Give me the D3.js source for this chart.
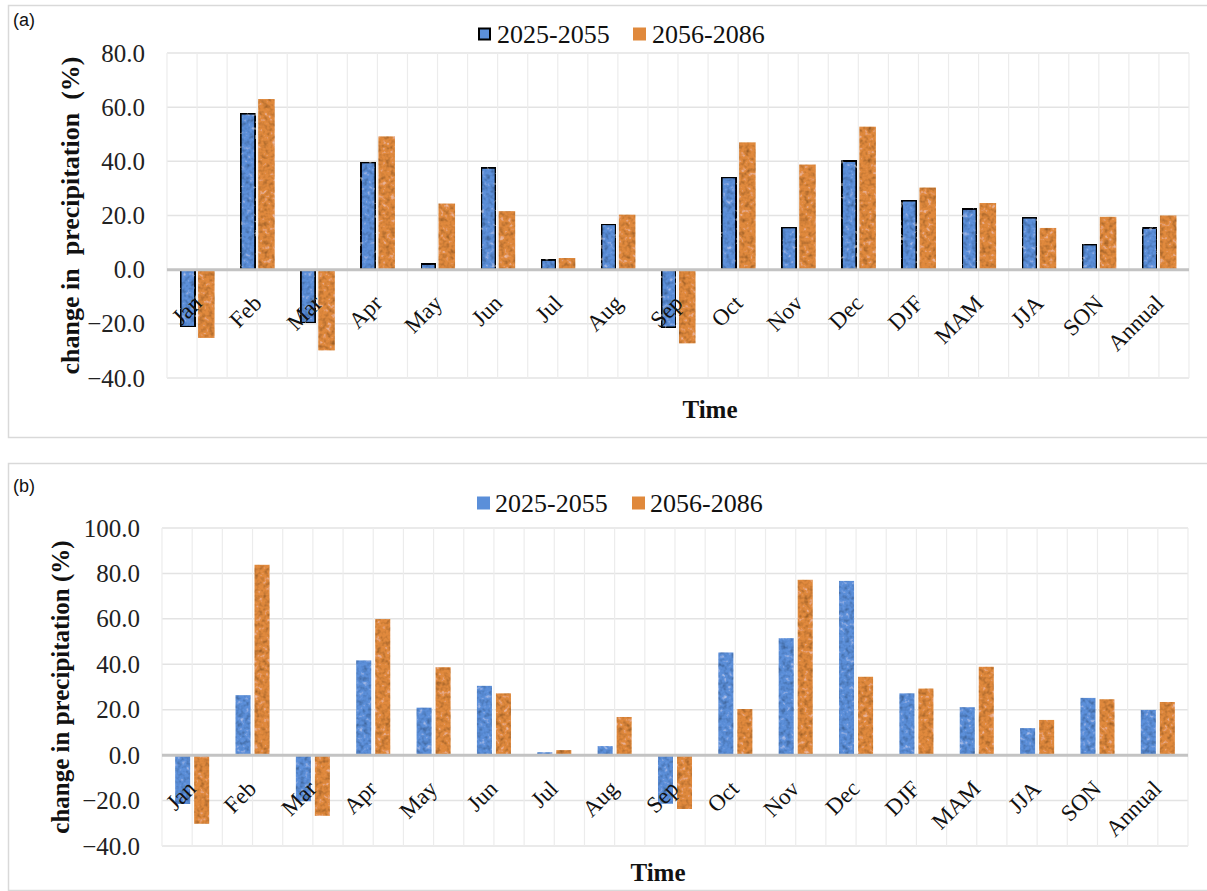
<!DOCTYPE html>
<html><head><meta charset="utf-8">
<script src="https://cdn.jsdelivr.net/npm/d3@7"></script>
<style>
html,body{margin:0;padding:0;background:#fff;}
svg{display:block;}
</style></head>
<body>
<svg id="chart" width="1207" height="891"></svg>
<script>
// ---------- DATA ----------
const categories = ["Jan","Feb","Mar","Apr","May","Jun","Jul","Aug","Sep","Oct","Nov","Dec","DJF","MAM","JJA","SON","Annual"];
const seriesNames = ["2025-2055","2056-2086"];
const panelA_2025_2055 = [-21.5,58.0,-20.0,40.0,2.5,38.0,4.0,17.2,-21.7,34.5,16.0,40.5,25.9,22.8,19.6,9.7,15.8];
const panelA_2056_2086 = [-25.2,63.0,-29.8,49.2,24.4,21.6,4.3,20.3,-27.2,47.0,38.8,52.8,30.3,24.6,15.4,19.5,20.0];
const panelB_2025_2055 = [-21.5,26.4,-20.3,41.7,20.9,30.5,1.3,4.0,-21.4,45.2,51.5,76.7,27.2,21.1,11.9,25.2,19.9];
const panelB_2056_2086 = [-30.2,83.8,-26.7,59.9,38.7,27.2,2.2,16.8,-23.7,20.3,77.2,34.5,29.3,38.9,15.5,24.6,23.4];
const ticksA = [-40,-20,0,20,40,60,80];
const ticksB = [-40,-20,0,20,40,60,80,100];
const yTitle = "change in precipitation (%)";
const xTitle = "Time";

// ---------- STYLE ----------
const BLUE = "#5b8fd9", ORANGE = "#e0893c";
const SERIF = "'Liberation Serif','Times New Roman',serif";
const SANS = "'Liberation Sans',Arial,sans-serif";

const svg = d3.select("#chart");
const defs = svg.append("defs");
// soft mottled texture
const f = defs.append("filter").attr("id","grain").attr("x",0).attr("y",0).attr("width",1).attr("height",1);
f.append("feTurbulence").attr("type","fractalNoise").attr("baseFrequency","0.22").attr("numOctaves",2).attr("seed",7).attr("result","noise");
f.append("feColorMatrix").attr("in","noise").attr("type","matrix")
  .attr("values","0 0 0 0 0  0 0 0 0 0  0 0 0 0 0  1.3 0 0 0 -0.6").attr("result","dark");
f.append("feColorMatrix").attr("in","noise").attr("type","matrix")
  .attr("values","0 0 0 0 1  0 0 0 0 1  0 0 0 0 1  -1.3 0 0 0 0.48").attr("result","light");
f.append("feComposite").attr("in","dark").attr("in2","SourceAlpha").attr("operator","in").attr("result","d2");
f.append("feComposite").attr("in","light").attr("in2","SourceAlpha").attr("operator","in").attr("result","l2");
const fm = f.append("feMerge");
fm.append("feMergeNode").attr("in","SourceGraphic");
fm.append("feMergeNode").attr("in","d2");
fm.append("feMergeNode").attr("in","l2");

const panels = [
  { tag:"(a)", box:{x:8,y:5,w:1210,h:432}, tagPos:[13,26],
    plot:{l:167,r:1189,t:53,b:378}, domain:[-40,80], ticks:ticksA,
    data:[panelA_2025_2055, panelA_2056_2086], border:true,
    inner:{pi:0.108,po:0.678},
    tickX:145, titleX:70, titleSize:26, titleText:"change in  precipitation  (%)",
    timeX:710, timeY:418,
    legend:{cy:34, sq:[478,633], tx:[497,652]}, labDx:6 },
  { tag:"(b)", box:{x:8,y:463,w:1210,h:427}, tagPos:[13,492],
    plot:{l:162,r:1188,t:528,b:846}, domain:[-40,100], ticks:ticksB,
    data:[panelB_2025_2055, panelB_2056_2086], border:false,
    inner:{pi:0.21,po:0.693},
    tickX:140, titleX:60, titleSize:25, titleText:yTitle,
    timeX:658, timeY:881,
    legend:{cy:503, sq:[477,632], tx:[495,650]}, labDx:5 }
];

panels.forEach(p => {
  const g = svg.append("g");
  g.append("rect").attr("x",p.box.x+0.5).attr("y",p.box.y+0.5).attr("width",p.box.w).attr("height",p.box.h)
    .attr("fill","#fff").attr("stroke","#d9d9d9").attr("stroke-width",1.5);
  g.append("text").attr("x",p.tagPos[0]).attr("y",p.tagPos[1]).text(p.tag)
    .attr("font-family",SANS).attr("font-size",18).attr("fill","#111");

  const x0 = d3.scaleBand().domain(categories).range([p.plot.l,p.plot.r]).paddingInner(0).paddingOuter(0);
  const x1 = d3.scaleBand().domain(seriesNames).range([0,x0.bandwidth()]).paddingInner(p.inner.pi).paddingOuter(p.inner.po);
  const y = d3.scaleLinear().domain(p.domain).range([p.plot.b,p.plot.t]);

  // horizontal gridlines
  g.append("g").selectAll("line").data(p.ticks).join("line")
    .attr("x1",p.plot.l).attr("x2",p.plot.r).attr("y1",d=>y(d)).attr("y2",d=>y(d))
    .attr("stroke","#e3e3e3").attr("stroke-width",1.5);
  // vertical gridlines at half-category steps
  const halfSteps = d3.range(0, categories.length*2+1);
  g.append("g").selectAll("line").data(halfSteps).join("line")
    .attr("x1",d=>p.plot.l + d*x0.step()/2).attr("x2",d=>p.plot.l + d*x0.step()/2)
    .attr("y1",p.plot.t).attr("y2",p.plot.b)
    .attr("stroke","#ececec").attr("stroke-width",1.2);

  // y tick labels
  const fmt = d3.format(".1f");
  g.append("g").selectAll("text").data(p.ticks).join("text")
    .attr("x",p.tickX).attr("y",d=>y(d)).attr("dy","0.34em").attr("text-anchor","end")
    .attr("font-family",SERIF).attr("font-size",25).attr("fill","#222").text(d=>fmt(d));

  // bars
  seriesNames.forEach((s,si) => {
    const vals = p.data[si];
    const outlined = p.border && si===0;
    g.append("g").selectAll("rect").data(categories).join("rect")
      .attr("x",(c)=>x0(c)+x1(s) + (outlined?1:0))
      .attr("width",x1.bandwidth() - (outlined?2:0))
      .attr("y",(c,i)=>Math.min(y(vals[i]),y(0)) + (outlined && vals[i]>=0 ? 1:0))
      .attr("height",(c,i)=>Math.abs(y(vals[i])-y(0)) - (outlined?1:0))
      .attr("fill", si===0?BLUE:ORANGE)
      .attr("filter","url(#grain)")
      .attr("stroke", outlined?"#000":"none").attr("stroke-width", outlined?2:0);
  });

  // zero line
  g.append("line").attr("x1",p.plot.l).attr("x2",p.plot.r).attr("y1",y(0)).attr("y2",y(0))
    .attr("stroke","#c3c3c3").attr("stroke-width",3);

  // x category labels (rotated)
  g.append("g").selectAll("text").data(categories).join("text")
    .attr("transform",c=>`translate(${x0(c)+x0.bandwidth()/2+p.labDx},${y(0)+35}) rotate(-45)`)
    .attr("text-anchor","end").attr("font-family",SERIF).attr("font-size",23).attr("fill","#111")
    .text(c=>c);

  // axis titles
  g.append("text").attr("transform",`translate(${p.titleX},${(p.plot.t+p.plot.b)/2}) rotate(-90)`)
    .attr("text-anchor","middle").attr("dy","0.35em").attr("font-family",SERIF).attr("font-weight","bold")
    .attr("font-size",p.titleSize).style("white-space","pre").attr("fill","#111").text(p.titleText);
  g.append("text").attr("x",p.timeX).attr("y",p.timeY).attr("text-anchor","middle")
    .attr("font-family",SERIF).attr("font-weight","bold").attr("font-size",25).attr("fill","#111").text(xTitle);

  // legend
  seriesNames.forEach((s,si) => {
    const sq = 13;
    const outlined = p.border && si===0;
    g.append("rect").attr("x",p.legend.sq[si]+(outlined?1:0)).attr("y",p.legend.cy-sq/2+(outlined?1:0))
      .attr("width",sq-(outlined?2:0)).attr("height",sq-(outlined?2:0))
      .attr("fill",si===0?BLUE:ORANGE)
      .attr("stroke",outlined?"#000":"none").attr("stroke-width",outlined?2:0);
    g.append("text").attr("x",p.legend.tx[si]).attr("y",p.legend.cy).attr("dy","0.35em")
      .attr("font-family",SERIF).attr("font-size",26).attr("fill","#111").text(s);
  });
});
</script>
</body></html>
